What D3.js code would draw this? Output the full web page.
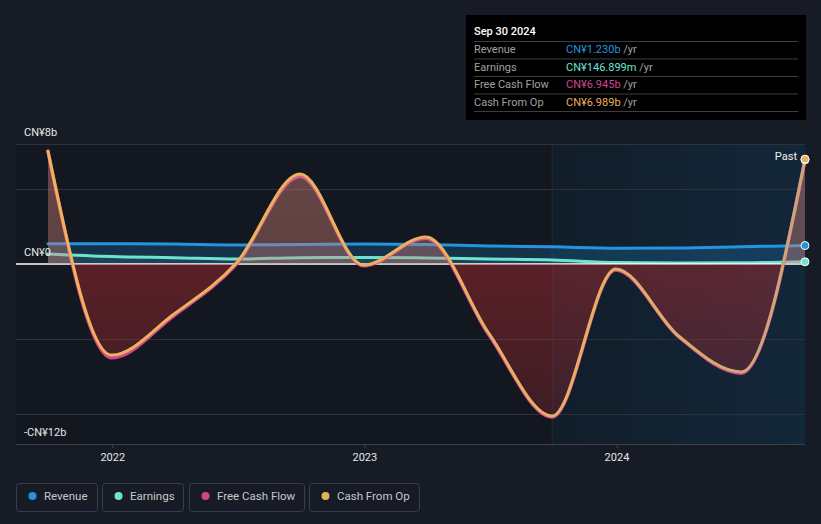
<!DOCTYPE html>
<html>
<head>
<meta charset="utf-8">
<script src="https://cdn.jsdelivr.net/npm/d3@7"></script>
<style>
  html, body { margin: 0; padding: 0; background: #161b25; }
  svg { display: block; font-family: Roboto, "Noto Sans", sans-serif; }
</style>
</head>
<body>
<svg id="chart" width="821" height="524"></svg>
<script>
// ---- data (billions CNY), quarterly trailing-twelve-month values ----
const dates = ["2021-09-30","2021-12-31","2022-03-31","2022-06-30","2022-09-30","2022-12-31",
               "2023-03-31","2023-06-30","2023-09-30","2023-12-31","2024-03-31","2024-06-30","2024-09-30"];
const revenue     = [1.35, 1.35, 1.33, 1.27, 1.30, 1.33, 1.30, 1.20, 1.15, 1.05, 1.07, 1.15, 1.23];
const earnings    = [0.67, 0.50, 0.42, 0.33, 0.42, 0.43, 0.40, 0.33, 0.27, 0.10, 0.07, 0.08, 0.147];
const freeCashFlow= [7.50, -6.25, -3.45, 0.00, 5.85, -0.12, 1.72, -4.70, -10.20, -0.40, -4.85, -7.28, 6.945];
const cashFromOp  = [7.53, -6.07, -3.35, 0.08, 6.00, -0.07, 1.80, -4.60, -10.13, -0.33, -4.80, -7.20, 6.989];
const yTickValues = [8, 0, -12];
const yTickLabels = ["CN¥8b", "CN¥0", "-CN¥12b"];
const gridValues  = [8, 5, -5, -10, -12];
const xTickYears  = ["2022", "2023", "2024"];
const seriesNames = ["Revenue", "Earnings", "Free Cash Flow", "Cash From Op"];
const seriesColors= ["#2394df", "#6ee3d0", "#d0478c", "#e9b15e"];
const tooltipTitle = "Sep 30 2024";
const tooltipValues = ["CN¥1.230b", "CN¥146.899m", "CN¥6.945b", "CN¥6.989b"];

// ---- setup ----
const svg = d3.select("#chart");
const parse = d3.timeParse("%Y-%m-%d");
const dts = dates.map(parse);
const plotL = 16, plotR = 805, plotT = 144, plotB = 444;

const x = d3.scaleTime().domain([dts[0], dts[dts.length - 1]]).range([48, 805]);
const y = d3.scaleLinear().domain([-12, 8]).range([plotB, plotT]);

const defs = svg.append("defs");

// plot background
svg.append("rect").attr("x", plotL).attr("y", plotT).attr("width", plotR - plotL).attr("height", plotB - plotT)
  .attr("fill", "#13171f");

// past-year highlight region
const pastStart = x(dts[dts.length - 5]);
const pg = defs.append("linearGradient").attr("id", "pastBg").attr("x1", "0").attr("x2", "1").attr("y1", "0").attr("y2", "0");
pg.append("stop").attr("offset", "0").attr("stop-color", "#111d29");
pg.append("stop").attr("offset", "1").attr("stop-color", "#13273a");
svg.append("rect").attr("x", pastStart).attr("y", plotT).attr("width", plotR - pastStart).attr("height", plotB - plotT)
  .attr("fill", "url(#pastBg)");
svg.append("line").attr("x1", pastStart).attr("x2", pastStart).attr("y1", plotT).attr("y2", plotB)
  .attr("stroke", "#1c2a38").attr("stroke-width", 1);

// gridlines
svg.append("g").selectAll("line").data(gridValues).join("line")
  .attr("x1", plotL).attr("x2", plotR)
  .attr("y1", d => y(d) + 0.5).attr("y2", d => y(d) + 0.5)
  .attr("stroke", "#2c313a").attr("stroke-width", 1);

// x axis
const xAxis = d3.axisBottom(x)
  .tickValues(xTickYears.map(yr => parse(yr + "-01-01")))
  .tickFormat(d3.timeFormat("%Y"))
  .tickSize(4).tickPadding(5);
const gx = svg.append("g").attr("transform", `translate(0,${plotB})`).call(xAxis);
gx.select(".domain").remove();
gx.selectAll(".tick line").attr("stroke", "#3a3f48");
gx.selectAll(".tick text").attr("fill", "#e6e6e6").attr("font-size", 11).attr("font-family", "Roboto, sans-serif");

// fill gradients
const posGrad = defs.append("linearGradient").attr("id", "cfoFill").attr("gradientUnits", "userSpaceOnUse")
  .attr("x1", 0).attr("x2", 0).attr("y1", plotT).attr("y2", plotB);
const z = (y(0) - plotT) / (plotB - plotT);
posGrad.append("stop").attr("offset", 0).attr("stop-color", "rgba(225,140,128,0.42)");
posGrad.append("stop").attr("offset", z).attr("stop-color", "rgba(215,130,120,0.38)");
posGrad.append("stop").attr("offset", z).attr("stop-color", "rgba(190,45,50,0.42)");
posGrad.append("stop").attr("offset", 1).attr("stop-color", "rgba(190,45,50,0.22)");

const lineGrad = defs.append("linearGradient").attr("id", "cfoStroke").attr("gradientUnits", "userSpaceOnUse")
  .attr("x1", 48).attr("x2", 805).attr("y1", 0).attr("y2", 0);
lineGrad.append("stop").attr("offset", 0).attr("stop-color", "#f0b25a");
lineGrad.append("stop").attr("offset", 0.72).attr("stop-color", "#e6b062");
lineGrad.append("stop").attr("offset", 1).attr("stop-color", "#c8a57c");

const curve = d3.curveMonotoneX;
function drawSeries(vals, color, areaFill, strokeW, strokeColor) {
  const pts = vals.map((v, i) => [dts[i], v]);
  const area = d3.area().x(d => x(d[0])).y0(y(0)).y1(d => y(d[1])).curve(curve);
  const line = d3.line().x(d => x(d[0])).y(d => y(d[1])).curve(curve);
  svg.append("path").datum(pts).attr("d", area).attr("fill", areaFill);
  svg.append("path").datum(pts).attr("d", line).attr("fill", "none")
    .attr("stroke", strokeColor || color).attr("stroke-width", strokeW)
    .attr("stroke-linejoin", "round").attr("stroke-linecap", "round");
}

drawSeries(revenue, seriesColors[0], "rgba(35,148,223,0.22)", 3);
drawSeries(earnings, seriesColors[1], "rgba(110,227,208,0.10)", 3);

// zero line
svg.append("line").attr("x1", plotL).attr("x2", plotR).attr("y1", y(0)).attr("y2", y(0))
  .attr("stroke", "#ffffff").attr("stroke-width", 1.5);

drawSeries(freeCashFlow, seriesColors[2], "rgba(0,0,0,0)", 3.5);
drawSeries(cashFromOp, seriesColors[3], "url(#cfoFill)", 3, "url(#cfoStroke)");

// bottom axis line
svg.append("line").attr("x1", plotL).attr("x2", plotR).attr("y1", plotB + 0.5).attr("y2", plotB + 0.5)
  .attr("stroke", "#3a3f48").attr("stroke-width", 1);

// y labels
svg.append("g").selectAll("text").data(yTickValues).join("text")
  .attr("x", 24).attr("y", d => y(d) - 8)
  .attr("fill", "#e8e8e8").attr("font-size", 11)
  .text((d, i) => yTickLabels[i]);

// end dots
const last = dts.length - 1;
[[revenue, 0], [earnings, 1], [freeCashFlow, 2], [cashFromOp, 3]].forEach(([vals, i]) => {
  svg.append("circle").attr("cx", x(dts[last])).attr("cy", y(vals[last])).attr("r", 4)
    .attr("fill", seriesColors[i]).attr("stroke", "#ffffff").attr("stroke-width", 1);
});
svg.append("text").attr("x", 797).attr("y", y(cashFromOp[last]) + 1)
  .attr("text-anchor", "end").attr("fill", "#f0f0f0").attr("font-size", 11).text("Past");

// tooltip
const tt = svg.append("g").attr("transform", "translate(466,15)");
tt.append("rect").attr("width", 340).attr("height", 105).attr("fill", "#000000");
tt.append("text").attr("x", 8).attr("y", 20).attr("fill", "#ffffff").attr("font-size", 11)
  .attr("font-weight", 500).text(tooltipTitle);
const rowY = [26, 43.5, 61, 78.5, 96];
tt.selectAll("line.sep").data(rowY).join("line").attr("class", "sep")
  .attr("x1", 8).attr("x2", 332).attr("y1", d => d + 0.5).attr("y2", d => d + 0.5)
  .attr("stroke", "#3d3d3d").attr("stroke-width", 1);
seriesNames.forEach((name, i) => {
  const by = rowY[i] + 12;
  tt.append("text").attr("x", 8).attr("y", by).attr("fill", "#a0a0a0").attr("font-size", 11).text(name);
  const t = tt.append("text").attr("x", 100).attr("y", by).attr("font-size", 11);
  t.append("tspan").attr("fill", seriesColors[i]).text(tooltipValues[i]);
  t.append("tspan").attr("fill", "#a0a0a0").text(" /yr");
});

// legend
const legendX = [16, 102, 189, 309];
const legendW = [81, 81, 115, 110];
const lg = svg.append("g");
seriesNames.forEach((name, i) => {
  const g = lg.append("g").attr("transform", `translate(${legendX[i]},483)`);
  g.append("rect").attr("x", 0.5).attr("y", 0.5).attr("width", legendW[i]).attr("height", 28)
    .attr("rx", 3).attr("fill", "none").attr("stroke", "#383d47");
  g.append("circle").attr("cx", 16.5).attr("cy", 13).attr("r", 4).attr("fill", seriesColors[i]);
  g.append("text").attr("x", 28).attr("y", 17).attr("fill", "#c8c8c8").attr("font-size", 11.5).text(name);
});
</script>
</body>
</html>
